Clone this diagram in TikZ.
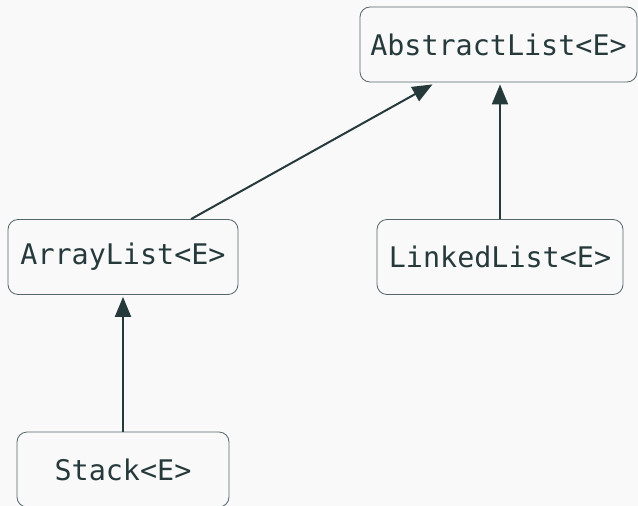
\documentclass[tikz,border=0pt]{standalone}
\usepackage{fontspec}
\newfontfamily\codefont{DejaVu Sans Mono}
\usetikzlibrary{arrows.meta}
\definecolor{bgGray}{HTML}{F9F9F9}
\definecolor{edgeDark}{HTML}{263A3C}
\definecolor{boxLine}{HTML}{55656A}
\begin{document}
\begin{tikzpicture}
        [x=1pt, y=-1pt,
        cls/.style={rectangle, rounded corners=10pt, draw=boxLine, line width=0.8pt, fill=bgGray,
            minimum height=75pt, inner sep=0pt, text=edgeDark,
            font=\codefont\fontsize{28.4}{34}\selectfont},
        inherit/.style={line width=2pt, draw=edgeDark, -{Triangle[length=20pt, width=16pt]}}]
        \fill[bgGray] (0,0) rectangle (638,506);
        \useasboundingbox (0,0) rectangle (638,506);

        \node[cls, minimum width=277pt] (abstract) at (498.5,44.5) {AbstractList<E>};
        \node[cls, minimum width=230pt] (array) at (123,257) {ArrayList<E>};
        \node[cls, minimum width=246pt] (linked) at (500,257) {LinkedList<E>};
        \node[cls, minimum width=212pt] (stack) at (123,469.5) {Stack<E>};

        \draw[inherit] ([xshift=68pt]array.north) -- ([xshift=-66pt, yshift=-2pt]abstract.south);
        \draw[inherit] (linked.north) -- ([yshift=-2pt]linked.north |- abstract.south);
        \draw[inherit] (stack.north) -- ([yshift=-2pt]stack.north |- array.south);

    \end{tikzpicture}
\end{document}
